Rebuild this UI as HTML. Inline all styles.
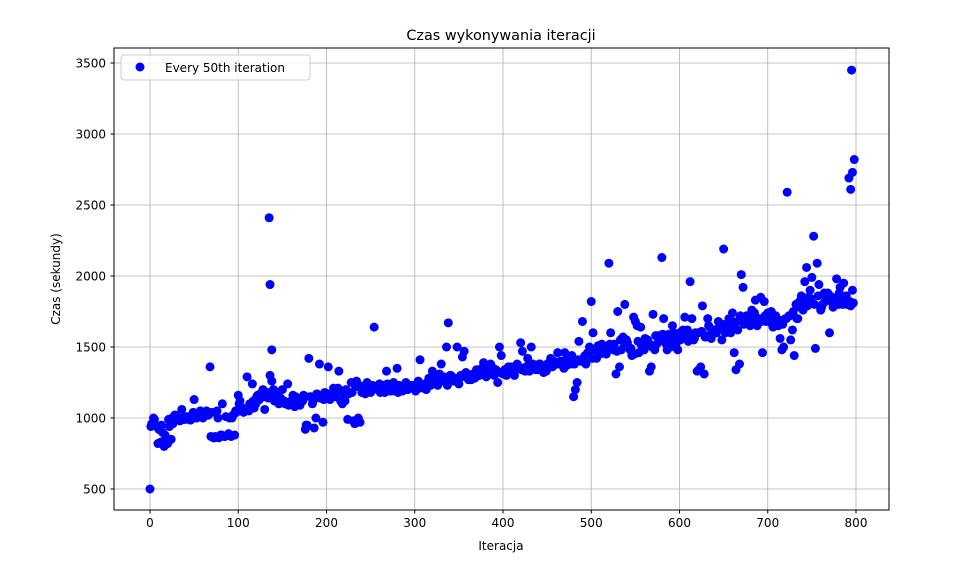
<!DOCTYPE html>
<html><head><meta charset="utf-8"><style>
body{margin:0;background:#fff;}
svg text{font-family:"DejaVu Sans","Liberation Sans",sans-serif;fill:#000;}
</style></head><body>
<svg id="chart" width="963" height="568" xmlns="http://www.w3.org/2000/svg">
<rect width="963" height="568" fill="#fff"/>
<text x="501" y="40" font-size="14.4" text-anchor="middle">Czas wykonywania iteracji</text>
<g id="grid"></g>
<g id="points"></g>
<rect x="114" y="48" width="775" height="462" fill="none" stroke="#000" stroke-width="1"/>
<g id="ticks"></g>
<text x="501" y="550" font-size="12" text-anchor="middle">Iteracja</text>
<text transform="translate(60,279) rotate(-90)" font-size="12" text-anchor="middle">Czas (sekundy)</text>
<g>
<rect x="121" y="55" width="189" height="25" rx="3" fill="#fff" fill-opacity="0.8" stroke="#ccc"/>
<circle cx="140" cy="67" r="4.5" fill="#0000ff"/>
<text x="165" y="72" font-size="12">Every 50th iteration</text>
</g>
</svg>
<script>
const xStep = 2;
const yValues = [
500,960,1000,950,940,920,830,900,800,850,
820,940,850,960,1020,990,1000,980,1060,990,
990,1000,1010,985,1000,1130,1000,1020,1040,1010,
1000,1030,1050,1020,1360,1040,860,870,1050,860,
880,1100,870,1010,880,1000,870,1020,880,1040,
1160,1120,1060,1040,1050,1290,1050,1080,1240,1070,
1100,1160,1130,1150,1200,1060,1180,1140,1300,1260,
1200,1180,1160,1100,1140,1200,1120,1100,1240,1100,
1120,1160,1080,1100,1110,1090,1140,1160,920,950,
1420,1150,1100,930,1000,1160,1380,1140,970,1180,
1150,1360,1130,1170,1210,1150,1200,1330,1120,1100,
1150,1200,990,1180,1250,980,960,1260,1000,970,
1180,1200,1170,1250,1190,1180,1230,1640,1220,1200,
1240,1200,1230,1180,1330,1210,1190,1200,1250,1190,
1350,1230,1200,1190,1220,1250,1200,1230,1220,1210,
1200,1220,1260,1410,1230,1210,1240,1250,1280,1230,
1330,1260,1290,1230,1310,1380,1260,1270,1500,1670,
1300,1270,1260,1280,1500,1240,1300,1430,1470,1320,
1290,1300,1270,1310,1280,1340,1300,1320,1350,1390,
1300,1340,1360,1380,1320,1300,1340,1250,1500,1440,
1310,1340,1300,1360,1330,1350,1320,1340,1380,1360,
1530,1470,1350,1360,1420,1330,1500,1380,1350,1360,
1340,1380,1360,1320,1350,1380,1380,1420,1360,1400,
1390,1460,1380,1400,1380,1460,1370,1400,1390,1440,
1150,1200,1250,1540,1400,1680,1430,1380,1460,1500,
1820,1600,1480,1420,1510,1450,1520,1500,1460,1480,
2090,1600,1500,1520,1310,1750,1360,1480,1570,1800,
1550,1500,1480,1440,1710,1680,1650,1460,1640,1500,
1480,1510,1550,1330,1360,1730,1480,1520,1580,1560,
2130,1700,1540,1480,1590,1500,1650,1560,1520,1480,
1600,1560,1620,1710,1580,1540,1960,1700,1550,1600,
1330,1340,1360,1790,1310,1580,1700,1640,1560,1610,
1620,1600,1680,1640,1550,2190,1600,1650,1700,1600,
1740,1460,1340,1620,1380,2010,1920,1700,1720,1680,
1650,1760,1700,1830,1650,1700,1850,1460,1820,1680,
1740,1700,1750,1640,1690,1700,1650,1560,1480,1500,
1700,2590,1720,1550,1620,1440,1800,1700,1820,1860,
1760,1960,2060,1850,1900,1990,2280,1490,2090,1940,
1760,1800,1880,1850,1880,1600,1820,1780,1840,1980,
1800,1920,1830,1950,1850,1800,2690,1790,1900,2820
];
const x2Start = 1;
const x2Step = 4;
const yValues2 = [
940,990,820,950,880,990,1000,1020,990,1000,1010,990,1040,1000,1050,1040,1020,870,860,1000,
880,870,890,1000,1050,1100,1070,1060,1100,1120,1150,1170,1150,1180,1160,1120,1130,1110,1100,1090,
1110,1150,1100,1120,950,1150,1120,1170,1140,1130,1170,1150,1180,1210,1190,1120,1170,1180,1220,1230,
1200,1220,1190,1200,1220,1180,1210,1240,1190,1200,1180,1220,1200,1210,1230,1190,1210,1220,1200,1240,
1250,1280,1260,1290,1230,1300,1280,1260,1290,1310,1270,1300,1320,1300,1330,1290,1310,1350,1330,1320,
1320,1340,1360,1300,1350,1340,1330,1370,1350,1340,1380,1360,1330,1390,1370,1380,1400,1350,1420,1380,
1380,1410,1400,1440,1460,1420,1490,1470,1500,1450,1520,1480,1470,1550,1500,1530,1490,1450,1540,1510,
1560,1530,1500,1580,1540,1590,1520,1560,1600,1570,1550,1590,1620,1580,1560,1600,1610,1570,1650,1620,
1600,1640,1660,1620,1700,1650,1680,1720,1660,1700,1690,1740,1700,1680,1720,1700,1660,1720,1690,1660,
1700,1720,1750,1700,1780,1820,1790,1840,1800,1860,1780,1820,1870,1850,1830,1880,1800,1860,1820,1810
];
const extraX = [795,794,796,135,136,138];
const extraY = [3450,2610,2730,2410,1940,1480];
const xTicks = [0,100,200,300,400,500,600,700,800];
const yTicks = [500,1000,1500,2000,2500,3000,3500];

const NS='http://www.w3.org/2000/svg';
const sx = v => 150 + v*(856-150)/800;
const sy = v => 489 - (v-500)*(489-63)/3000;
const grid=document.getElementById('grid'), pts=document.getElementById('points'), tk=document.getElementById('ticks');
function mk(tag,attrs,parent){const e=document.createElementNS(NS,tag);for(const k in attrs)e.setAttribute(k,attrs[k]);parent.appendChild(e);return e;}
xTicks.forEach(t=>{
  const g=mk('line',{x1:sx(t),x2:sx(t),y1:48,y2:510,stroke:'#b0b0b0','stroke-width':0.8},grid);
  
  
  mk('line',{x1:sx(t),x2:sx(t),y1:510,y2:513.5,stroke:'#000'},tk);
  const l=mk('text',{x:sx(t),y:527,'font-size':12,'text-anchor':'middle'},tk);
  l.textContent=t;
  
  
});
yTicks.forEach(t=>{
  const g=mk('line',{x1:114,x2:889,y1:sy(t),y2:sy(t),stroke:'#b0b0b0','stroke-width':0.8},grid);
  
  
  mk('line',{x1:110.5,x2:114,y1:sy(t),y2:sy(t),stroke:'#000'},tk);
  const l=mk('text',{x:106,y:sy(t)+4.5,'font-size':12,'text-anchor':'end'},tk);
  l.textContent=t;
  
  
});
yValues.forEach((v,i)=>{
  const c=mk('circle',{cx:sx(i*xStep),cy:sy(v),r:4.5,fill:'#0000ff'},pts);
  
  
});
yValues2.forEach((v,i)=>{
  const c=mk('circle',{cx:sx(x2Start+i*x2Step),cy:sy(v),r:4.5,fill:'#0000ff'},pts);
  
  
});
extraX.forEach((x,i)=>{
  const c=mk('circle',{cx:sx(x),cy:sy(extraY[i]),r:4.5,fill:'#0000ff'},pts);
  
  
});
</script>
</body></html>
